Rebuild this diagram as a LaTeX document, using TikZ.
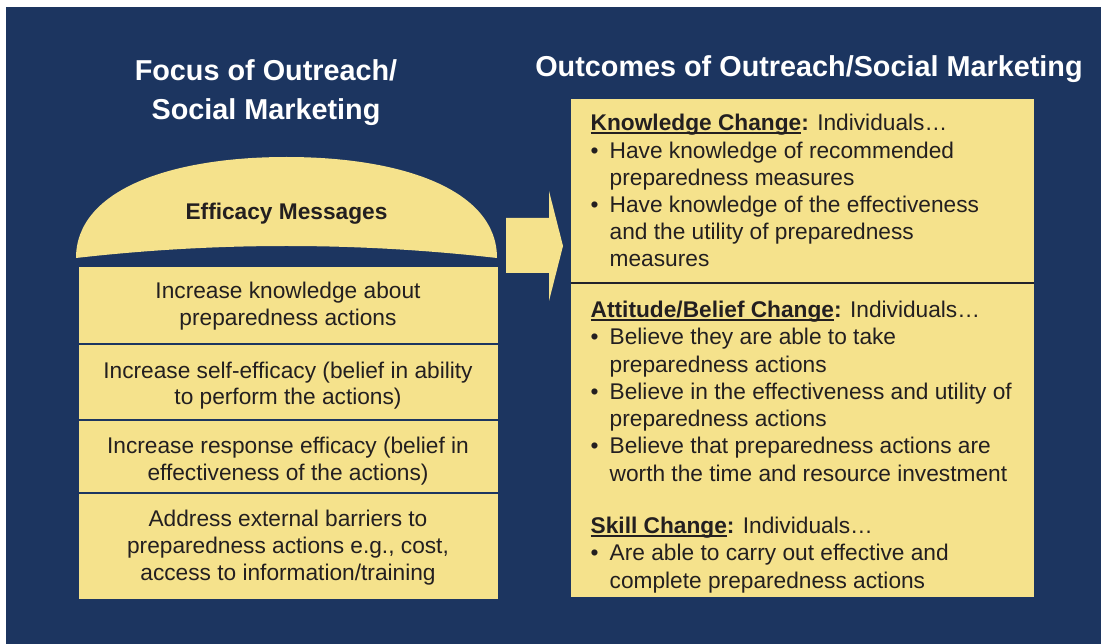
\documentclass[tikz,border=0pt]{standalone}
\usepackage{fontspec}
\setmainfont{Liberation Sans}
\usetikzlibrary{calc}
\definecolor{navy}{HTML}{1C3560}
\definecolor{pale}{HTML}{F5E28C}
\definecolor{ink}{HTML}{231F20}
% bold heading with a thick underline drawn close to the baseline
\newcommand\headul[1]{\setbox0\hbox{\textbf{#1}}\rlap{\rule[-3.3pt]{\wd0}{2pt}}\box0}
\newcommand\bul{\makebox[19pt][l]{•}}
\newcommand\cont{\hspace*{19pt}}
\begin{document}
% multi-line nodes are anchored at the baseline of their last line
\begin{tikzpicture}[x=1pt,y=-1pt,
  title/.style={font=\fontsize{28.8}{39}\selectfont\bfseries, text=white, inner sep=0pt},
  body/.style={font=\fontsize{22.7}{27.2}\selectfont, text=ink, inner sep=0pt},
  lbody/.style={font=\fontsize{22.7}{27}\selectfont, text=ink, inner sep=0pt, align=center, anchor=base},
  rbody/.style={font=\fontsize{22.7}{27.25}\selectfont, text=ink, inner sep=0pt, align=left, anchor=base west},
  lbox/.style={fill=pale, draw=none, inner sep=0pt, outer sep=0pt, anchor=north west, minimum width=419.5pt},
  sep/.style={draw=navy, line width=1.3pt},
]
\useasboundingbox (0,0) rectangle (1101,644);
\fill[white] (0,0) rectangle (1101,644);
\fill[navy] (6,7) rectangle (1101,644);

% column titles
\node[title, align=center, anchor=base] (ltitle) at (266,120) {Focus of Outreach/\\Social Marketing};
\node[title, anchor=base] (rtitle) at (809,77) {Outcomes of Outreach/Social Marketing};

% dome cap
\fill[pale] (76,258) .. controls (76,190) and (170,157) .. (286.5,157)
  .. controls (403,157) and (497,190) .. (497,258)
  .. controls (356.7,242) and (216.3,242) .. (76,258) -- cycle;
\node[body, font=\fontsize{22.7}{27}\selectfont\bfseries, anchor=base] (eff) at (286.5,220) {Efficacy Messages};

% stacked focus boxes
\node[lbox, minimum height=77pt] (b1) at (78.5,267) {};
\node[lbox, minimum height=76pt] (b2) at (78.5,344) {};
\node[lbox, minimum height=73pt] (b3) at (78.5,420) {};
\node[lbox, minimum height=106pt] (b4) at (78.5,493) {};
\draw[sep] (b1.south west) -- (b1.south east);
\draw[sep] (b2.south west) -- (b2.south east);
\draw[sep] (b3.south west) -- (b3.south east);

\node[lbody] (t1) at (288,326) {Increase knowledge about\\preparedness actions};
\node[lbody] (t2) at (288,405) {Increase self-efficacy (belief in ability\\to perform the actions)};
\node[lbody] (t3) at (288,480) {Increase response efficacy (belief in\\effectiveness of the actions)};
\node[lbody] (t4) at (288,580) {Address external barriers to\\preparedness actions e.g., cost,\\access to information/training};

% block arrow between the columns
\fill[pale] (506,218) -- (549,218) -- (549,191) -- (563,246) -- (549,301) -- (549,273) -- (506,273) -- cycle;

% outcomes box
\node[fill=pale, draw=none, inner sep=0pt, outer sep=0pt, anchor=north west,
      minimum width=463pt, minimum height=498pt] (rb) at (571,99) {};
\coordinate (divL) at (571,283);
\coordinate (divR) at (1034,283);
\draw[draw=ink!85!navy, line width=1.2pt] (divL) -- (divR);

\node[rbody, font=\fontsize{22.7}{27.2}\selectfont] (know) at (590.5,267)
  {\headul{Knowledge Change}\textbf{:} Individuals…\\
   \bul Have knowledge of recommended\\
   \cont preparedness measures\\
   \bul Have knowledge of the effectiveness\\
   \cont and the utility of preparedness\\
   \cont measures};
\node[rbody] (att) at (590.5,481)
  {\headul{Attitude/Belief Change}\textbf{:} Individuals…\\
   \bul Believe they are able to take\\
   \cont preparedness actions\\
   \bul Believe in the effectiveness and utility of\\
   \cont preparedness actions\\
   \bul Believe that preparedness actions are\\
   \cont worth the time and resource investment};
\node[rbody] (skill) at (590.5,588)
  {\headul{Skill Change}\textbf{:} Individuals…\\
   \bul Are able to carry out effective and\\
   \cont complete preparedness actions};
\end{tikzpicture}
\end{document}
